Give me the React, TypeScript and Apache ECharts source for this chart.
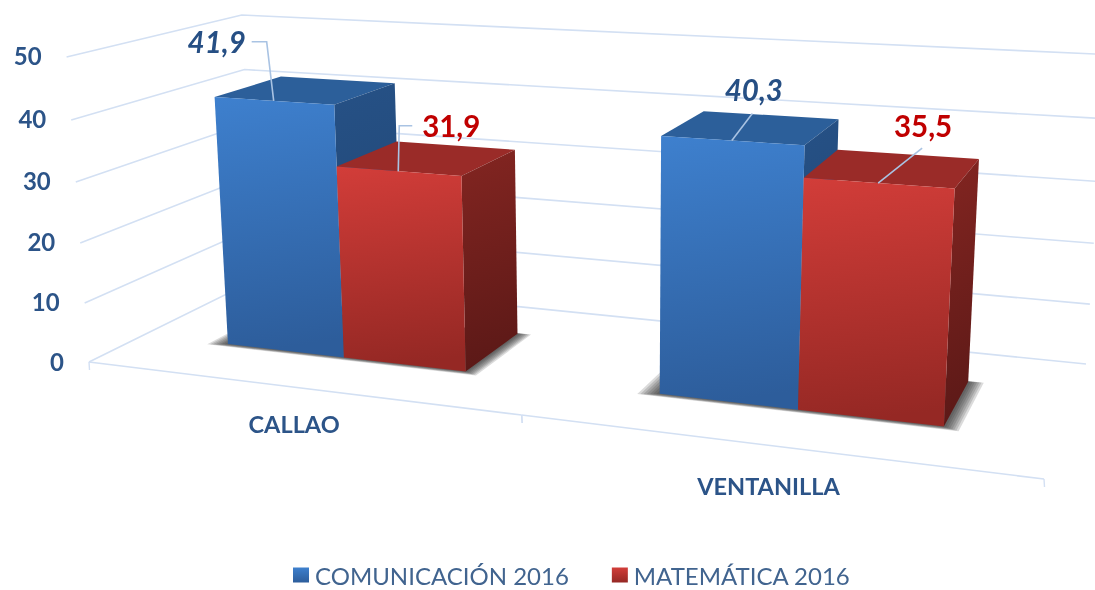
import React, { useEffect, useRef } from "react";
import * as echarts from "echarts";

const categories = ["CALLAO", "VENTANILLA"];
const comunicacion = [41.9, 40.3];
const matematica = [31.9, 35.5];
const yTicks = [0, 10, 20, 30, 40, 50];
const seriesNames = ["COMUNICACIÓN 2016", "MATEMÁTICA 2016"];

const W = 1095;
const H = 590;
const Y_MAX = 50;

// Layout of the perspective box (screen anchors of the floor and the vertical vanishing point)
const F00 = [89, 362];
const F10 = [1044, 479];
const F11 = [1086, 364];
const F01 = [255, 280];
const VP = [620, 7590];
const TOP_Q = -0.0405;

const BAR_HALF = 0.143;
const DEPTH = [0.304, 0.712];
const SHADOW_LAYERS = [7, 6, 5, 4, 3, 2, 1];

const sx = F00[0] - F10[0] + F11[0] - F01[0];
const sy = F00[1] - F10[1] + F11[1] - F01[1];
const dx1 = F10[0] - F11[0];
const dx2 = F01[0] - F11[0];
const dy1 = F10[1] - F11[1];
const dy2 = F01[1] - F11[1];
const det = dx1 * dy2 - dx2 * dy1;
const hg = (sx * dy2 - dx2 * sy) / det;
const hh = (dx1 * sy - sx * dy1) / det;
const ha = F10[0] * (1 + hg) - F00[0];
const hb = F01[0] * (1 + hh) - F00[0];
const hd = F10[1] * (1 + hg) - F00[1];
const he = F01[1] * (1 + hh) - F00[1];

function project(s: number, t: number, level: number): number[] {
  const q = level * TOP_Q;
  const w = 1 + hg * s + hh * t + q;
  return [
    (ha * s + hb * t + F00[0] + q * VP[0]) / w,
    (hd * s + he * t + F00[1] + q * VP[1]) / w,
  ];
}

const grad = (a: string, b: string, x2 = 0.08) =>
  new echarts.graphic.LinearGradient(0, 0, x2, 1, [
    { offset: 0, color: a },
    { offset: 1, color: b },
  ]);

const GRID = "#d3e0f3";
const AXIS_TEXT = "#2c5488";
const FONT = "Lato, Carlito, 'Noto Sans', sans-serif";

const palettes = [
  {
    front: () => grad("#3e80ce", "#2d5d9b"),
    top: "#2c5f9a",
    side: () => grad("#265186", "#1f4470"),
    legend: () => grad("#3e80ce", "#2d5d9b", 0),
    label: "#264f84",
    font: `italic bold 29.5px ${FONT}`,
  },
  {
    front: () => grad("#d23d39", "#952824"),
    top: "#9a2b28",
    side: () => grad("#832521", "#5c1917"),
    legend: () => grad("#d23d39", "#952824", 0),
    label: "#c00000",
    font: `bold 29.5px ${FONT}`,
  },
];

// Label centre and leader-line bend points, relative to the middle of the bar's top front edge
const labelOffsets = [
  [[-57, -59], [22, -51]],
  [[53, -45.5], [45, -58]],
];
const leaderOffsets = [
  [
    [[-22, -59], [-7, -59], [0, 0]],
    [[20.5, -27], [0, 0]],
  ],
  [
    [[14, -45.5], [1, -45.5], [0, 0]],
    [[44, -35], [0, 0]],
  ],
];
const categoryLabelDrop = [37, 41];

const toS = (api: any, idx: number) => api.coord([idx, 0])[0] / W;
const toLevel = (api: any, val: number) => (H - api.coord([0, val])[1]) / H;

function renderWalls(_p: any, api: any) {
  const value = api.value(1);
  const lv = toLevel(api, value);
  const a = project(0, 0, lv);
  const b = project(0, 1, lv);
  const c = project(1, 1, lv);
  return {
    type: "group",
    silent: true,
    children: [
      {
        type: "polyline",
        shape: { points: [a, b, c] },
        style: { stroke: GRID, lineWidth: 1.6, fill: "none" },
      },
      {
        type: "text",
        style: {
          text: String(value),
          x: a[0] - 25,
          y: a[1] - 1,
          textAlign: "right",
          textVerticalAlign: "middle",
          fill: AXIS_TEXT,
          font: `bold 24px ${FONT}`,
        },
      },
    ],
  };
}

function renderFloor(_p: any, api: any) {
  const idx = api.value(0);
  const sc = toS(api, idx);
  const half = api.size([1, 0])[0] / W / 2;
  const l = project(sc - half, 0, 0);
  const r = project(sc + half, 0, 0);
  const m = project(sc, 0, 0);
  const tick = (q: number[]) => ({
    type: "line",
    shape: { x1: q[0], y1: q[1], x2: q[0] + 0.5, y2: q[1] + 8 },
    style: { stroke: GRID, lineWidth: 1.4 },
  });
  const children: any[] = [
    {
      type: "line",
      shape: { x1: l[0], y1: l[1], x2: r[0], y2: r[1] },
      style: { stroke: GRID, lineWidth: 1.6 },
    },
    tick(l),
    tick(r),
    {
      type: "text",
      style: {
        text: categories[idx],
        x: m[0] - 1.5,
        y: m[1] + categoryLabelDrop[idx],
        textAlign: "center",
        textVerticalAlign: "middle",
        fill: AXIS_TEXT,
        font: `bold 23.5px ${FONT}`,
      },
    },
  ];
  return { type: "group", silent: true, children };
}

function renderShadow(_p: any, api: any) {
  const sc = toS(api, api.value(0));
  const children = SHADOW_LAYERS.map((k) => {
    const a = sc - BAR_HALF - k * 0.003;
    const b = sc + BAR_HALF + k * 0.0022;
    const t0 = DEPTH[0] - k * 0.0035;
    const t1 = DEPTH[1] + k * 0.001;
    return {
      type: "polygon",
      shape: {
        points: [project(a, t0, 0), project(b, t0, 0), project(b, t1, 0), project(a, t1, 0)],
      },
      style: { fill: "rgba(40,40,40,0.17)" },
    };
  });
  return { type: "group", silent: true, children };
}

const renderBar = (si: number) => (_p: any, api: any) => {
  const idx = api.value(0);
  const sc = toS(api, idx);
  const s0 = si === 0 ? sc - BAR_HALF : sc;
  const s1 = si === 0 ? sc : sc + BAR_HALF;
  const lv = toLevel(api, api.value(1));
  const [t0, t1] = DEPTH;
  const pal = palettes[si];
  const fbl = project(s0, t0, 0);
  const fbr = project(s1, t0, 0);
  const ftl = project(s0, t0, lv);
  const ftr = project(s1, t0, lv);
  const btl = project(s0, t1, lv);
  const btr = project(s1, t1, lv);
  const bbr = project(s1, t1, 0);
  const poly = (points: number[][], fill: any) => ({
    type: "polygon",
    shape: { points },
    style: { fill, stroke: null },
  });
  return {
    type: "group",
    silent: true,
    children: [
      poly([ftl, ftr, btr, btl], pal.top),
      poly([ftr, fbr, bbr, btr], pal.side()),
      poly([ftl, ftr, fbr, fbl], pal.front()),
    ],
  };
};

const renderLabel = (si: number) => (_p: any, api: any) => {
  const idx = api.value(0);
  const val = api.value(1);
  const sc = toS(api, idx);
  const sm = si === 0 ? sc - BAR_HALF / 2 : sc + BAR_HALF / 2;
  const anchor = project(sm, DEPTH[0], toLevel(api, val));
  const off = labelOffsets[si][idx];
  const pts = leaderOffsets[si][idx].map((o) => [anchor[0] + o[0], anchor[1] + o[1]]);
  return {
    type: "group",
    silent: true,
    children: [
      {
        type: "polyline",
        shape: { points: pts },
        style: { stroke: "#a9c3e3", lineWidth: 1.6, fill: "none" },
      },
      {
        type: "text",
        style: {
          text: val.toFixed(1).replace(".", ","),
          x: anchor[0] + off[0],
          y: anchor[1] + off[1],
          textAlign: "center",
          textVerticalAlign: "middle",
          fill: palettes[si].label,
          font: palettes[si].font,
        },
      },
    ],
  };
};

const pairs = (vals: number[]) => vals.map((v, i) => [i, v]);
const common = {
  type: "custom",
  coordinateSystem: "cartesian2d",
  clip: false,
  silent: true,
  encode: { x: 0, y: 1 },
};

export default function App() {
  const ref = useRef<HTMLDivElement>(null);
  useEffect(() => {
    const chart = echarts.init(ref.current!, undefined, { renderer: "svg" });
    chart.setOption({
      animation: false,
      backgroundColor: "#ffffff",
      grid: { left: 0, right: 0, top: 0, bottom: 0 },
      xAxis: { type: "category", data: categories, show: false },
      yAxis: { type: "value", min: 0, max: Y_MAX, interval: 10, show: false },
      legend: {
        data: seriesNames,
        left: 293,
        top: 563,
        padding: 0,
        itemWidth: 16,
        itemHeight: 15,
        itemGap: 43,
        icon: "rect",
        textStyle: { color: "#41648f", fontSize: 24, fontFamily: FONT, padding: [0, 0, 0, 1] },
      },
      series: [
        { ...common, name: "walls", z: 1, renderItem: renderWalls, data: yTicks.map((v) => [0, v]) },
        { ...common, name: "floor", z: 1, renderItem: renderFloor, data: categories.map((_, i) => [i, 0]) },
        { ...common, name: "shadow", z: 2, renderItem: renderShadow, data: categories.map((_, i) => [i, 0]) },
        {
          ...common,
          name: seriesNames[0],
          z: 3,
          renderItem: renderBar(0),
          itemStyle: { color: palettes[0].legend() },
          data: pairs(comunicacion),
        },
        {
          ...common,
          name: seriesNames[1],
          z: 4,
          renderItem: renderBar(1),
          itemStyle: { color: palettes[1].legend() },
          data: pairs(matematica),
        },
        { ...common, name: "labels-a", z: 5, renderItem: renderLabel(0), data: pairs(comunicacion) },
        { ...common, name: "labels-b", z: 5, renderItem: renderLabel(1), data: pairs(matematica) },
      ],
    });
    return () => chart.dispose();
  }, []);
  return (
    <div
      ref={ref}
      style={{
        position: "absolute",
        left: 0,
        top: 0,
        width: W,
        height: H,
        background: "#fff",
        filter: "blur(0.5px)",
      }}
    />
  );
}
